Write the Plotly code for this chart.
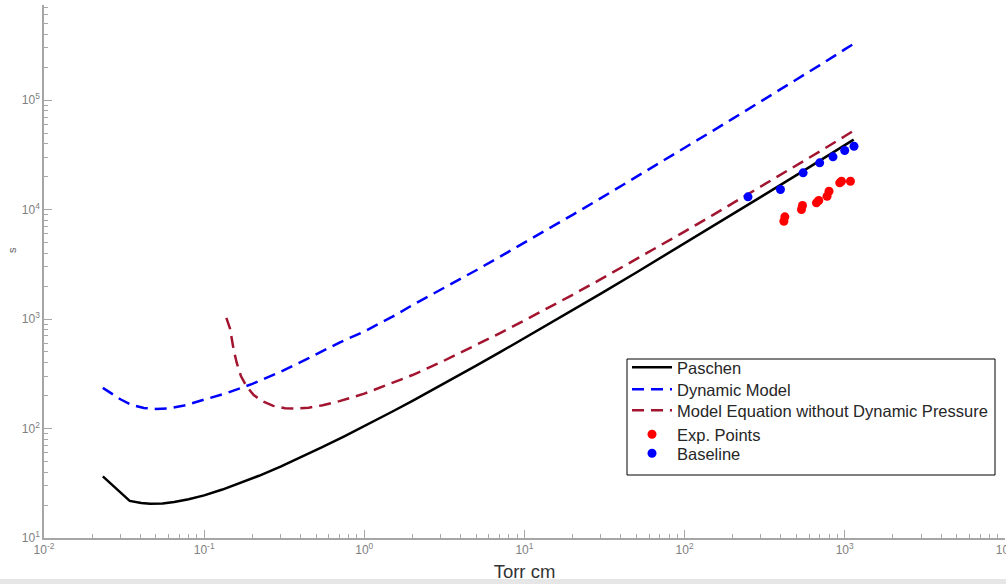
import plotly.graph_objects as go

# ---- data ----
paschen_x = [0.0233, 0.0343, 0.0405, 0.046, 0.055, 0.065, 0.08, 0.1, 0.13, 0.17, 0.22, 0.3, 0.4,
             0.55, 0.75, 1, 1.5, 2, 3, 5, 7, 10, 15, 20, 30, 50, 70, 100, 150, 200, 300, 500,
             700, 1000, 1138]
paschen_y = [36.5, 21.8, 20.9, 20.6, 20.7, 21.3, 22.6, 24.5, 27.7, 31.9, 37.0, 44.9, 54.4,
             67.8, 84.8, 105, 143, 179, 247, 375, 495, 668, 941, 1204, 1707, 2662, 3575, 4897,
             7014, 9064, 13030, 20630, 27970, 38650, 43500]

dyn_x = [0.0233, 0.03, 0.035, 0.042, 0.05, 0.06, 0.075, 0.1, 0.14, 0.2, 0.3, 0.45, 0.7, 1,
         1.5, 2, 3, 5, 7, 10, 15, 20, 30, 50, 70, 100, 150, 200, 300, 500, 700, 1000, 1172]
dyn_y = [235, 185, 165, 154, 151, 153, 162, 183, 212, 256, 330, 440, 610, 770,
         1050, 1340, 1845, 2790, 3690, 4960, 6970, 8950, 12700, 19800, 26600, 36450, 52300,
         67600, 96900, 154000, 208500, 290000, 335000]

nodyn_x = [0.1376, 0.145, 0.153, 0.16, 0.17, 0.185, 0.204, 0.23, 0.27, 0.32, 0.37, 0.45, 0.55,
           0.7, 1, 1.5, 2, 3, 5, 7, 10, 15, 20, 30, 50, 70, 100, 150, 200, 300, 500, 700,
           1000, 1117]
nodyn_y = [1026, 820, 520, 395, 300, 240, 202, 178, 161, 153, 152, 155, 163,
           178, 208, 260, 308, 402, 577, 740, 970, 1325, 1665, 2310, 3515, 4660, 6290, 8890,
           11390, 16180, 25290, 34000, 46700, 51600]

exp_x = [417, 423, 537, 545, 666, 689, 776, 798, 931, 955, 1086]
exp_y = [7820, 8580, 10000, 10880, 11510, 12080, 13220, 14690, 17530, 18130, 18130]

base_x = [249, 397, 550, 698, 845, 1000, 1143]
base_y = [13060, 15240, 21630, 26690, 30290, 34590, 37860]

x_tickvals = [0.01, 0.1, 1, 10, 100, 1000, 10000]
x_ticktext = ["10<sup>-2</sup>", "10<sup>-1</sup>", "10<sup>0</sup>", "10<sup>1</sup>",
              "10<sup>2</sup>", "10<sup>3</sup>", "10<sup>4</sup>"]
y_tickvals = [10, 100, 1000, 10000, 100000]
y_ticktext = ["10<sup>1</sup>", "10<sup>2</sup>", "10<sup>3</sup>", "10<sup>4</sup>",
              "10<sup>5</sup>"]

FONT = "Liberation Sans, Arial, sans-serif"
AX = "#a6a6a6"
TICKFONT = "#808080"

# plot-area geometry in pixels (for placing legend rows / box)
W, H = 1006, 584
ML, MR, MT, MB = 44, 1, 5, 46
PW, PH = W - ML - MR, H - MT - MB


def px_x(x):
    return (x - ML) / PW


def px_y(y):
    return (H - MB - y) / PH


fig = go.Figure()
fig.add_trace(go.Scatter(x=paschen_x, y=paschen_y, mode="lines", name="Paschen",
                         line=dict(color="black", width=2.5), legend="legend"))
fig.add_trace(go.Scatter(x=dyn_x, y=dyn_y, mode="lines", name="Dynamic Model",
                         line=dict(color="#0000ff", width=2.5, dash="12px,7px"), legend="legend2"))
fig.add_trace(go.Scatter(x=nodyn_x, y=nodyn_y, mode="lines",
                         name="Model Equation without Dynamic Pressure",
                         line=dict(color="#a2142f", width=2.5, dash="12px,7px"), legend="legend3"))
fig.add_trace(go.Scatter(x=exp_x, y=exp_y, mode="markers", name="Exp. Points",
                         marker=dict(color="#ff0000", size=9), legend="legend4"))
fig.add_trace(go.Scatter(x=base_x, y=base_y, mode="markers", name="Baseline",
                         marker=dict(color="#0000ff", size=9), legend="legend5"))

row_centers = [368, 390, 411, 435, 454]
OFFSET = 18
legends = {}
for i, rc in enumerate(row_centers):
    key = "legend" if i == 0 else f"legend{i + 1}"
    legends[key] = dict(x=px_x(627), y=px_y(rc - OFFSET), xanchor="left", yanchor="top",
                        bgcolor="rgba(0,0,0,0)", borderwidth=0,
                        font=dict(size=16.5, color="#262626", family=FONT),
                        itemwidth=40)

fig.update_layout(
    width=W, height=H,
    margin=dict(l=ML, r=MR, t=MT, b=MB, autoexpand=False),
    paper_bgcolor="white", plot_bgcolor="white",
    font=dict(family=FONT, color="#333333"),
    showlegend=True,
    **legends,
    shapes=[
        dict(type="rect", xref="paper", yref="paper", x0=-0.05, x1=1.01,
             y0=px_y(579), y1=px_y(585), fillcolor="#e6e6e6", line=dict(width=0), layer="below"),
        dict(type="rect", xref="paper", yref="paper", x0=px_x(627), x1=px_x(995),
             y0=px_y(475), y1=px_y(359), fillcolor="white", line=dict(color="black", width=1),
             layer="above"),
    ],
    annotations=[dict(text="s", xref="paper", yref="paper", x=px_x(12), y=px_y(250),
                      textangle=-90, showarrow=False, xanchor="center", yanchor="middle",
                      font=dict(size=11, color="#666666", family=FONT))],
)

fig.update_xaxes(type="log", range=[-2, 4.001], showgrid=False, zeroline=False,
                 showline=True, linecolor=AX, linewidth=1.5,
                 ticks="inside", ticklen=8, tickcolor=AX, tickwidth=1,
                 tickmode="array", tickvals=x_tickvals, ticktext=x_ticktext,
                 ticklabeloverflow="allow",
                 tickfont=dict(size=12, color=TICKFONT, family=FONT),
                 minor=dict(ticks="inside", ticklen=4, tickcolor=AX, dtick="D1", showgrid=False),
                 title=dict(text="Torr cm", font=dict(size=18.5, color="#333333", family=FONT),
                            standoff=9))
fig.update_yaxes(type="log", range=[1, 5.868], showgrid=False, zeroline=False,
                 showline=True, linecolor=AX, linewidth=1.5,
                 ticks="inside", ticklen=8, tickcolor=AX, tickwidth=1,
                 tickmode="array", tickvals=y_tickvals, ticktext=y_ticktext,
                 tickfont=dict(size=12, color=TICKFONT, family=FONT),
                 minor=dict(ticks="inside", ticklen=4, tickcolor=AX, dtick="D1", showgrid=False))

fig.write_html("out.html")
